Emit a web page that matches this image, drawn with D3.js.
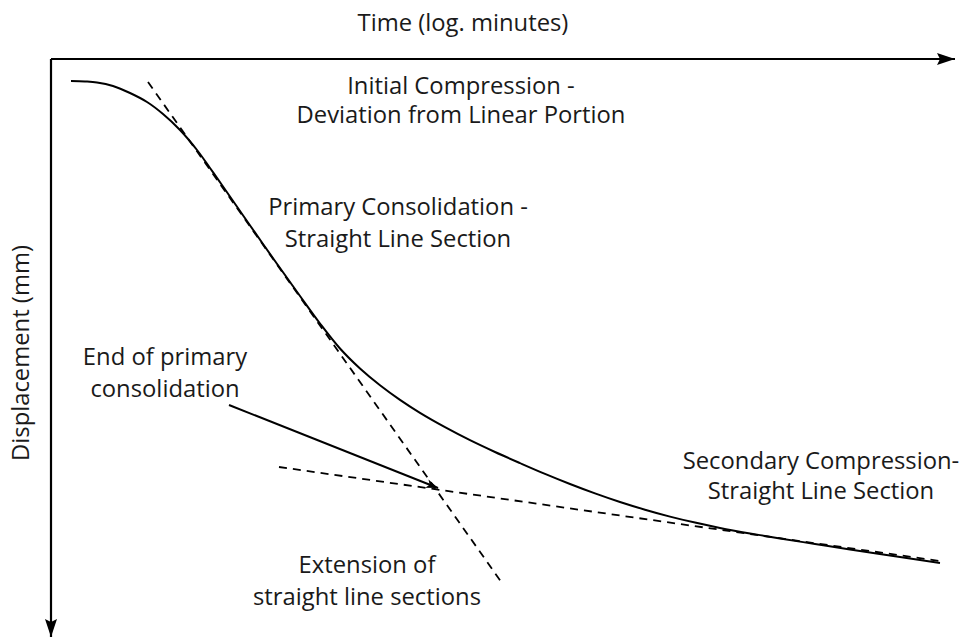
<!DOCTYPE html>
<html>
<head>
<meta charset="utf-8">
<script src="https://cdn.jsdelivr.net/npm/d3@7"></script>
<style>
  html, body { margin: 0; padding: 0; background: #fff; }
  svg { display: block; }
  text { font-family: "Open Sans", "Noto Sans", sans-serif; fill: #1a1a1a; }
</style>
</head>
<body>
<svg id="chart" width="960" height="638"></svg>
<script>
// Log-time (x) vs displacement (y), arbitrary units
const curveTime = [0.20, 0.34, 0.46, 0.62, 0.79, 0.96, 1.12, 1.29, 1.46, 1.59, 1.72, 2.12, 2.49, 2.69, 2.89, 3.09, 3.29, 3.49, 3.69, 3.94, 4.19, 4.44, 4.69, 4.94, 5.19, 5.44, 5.69, 5.94, 6.19, 6.44, 6.69, 6.99, 7.29, 7.64, 7.99, 8.44, 8.89];
const curveDisp = [0.22, 0.225, 0.235, 0.27, 0.34, 0.43, 0.55, 0.71, 0.91, 1.09, 1.275, 1.85, 2.37, 2.645, 2.895, 3.095, 3.263, 3.409, 3.539, 3.682, 3.812, 3.930, 4.041, 4.149, 4.250, 4.344, 4.430, 4.507, 4.576, 4.636, 4.689, 4.744, 4.794, 4.850, 4.904, 4.972, 5.040];

const primaryLineTime = [0.97, 4.51];
const primaryLineDisp = [0.23, 5.24];
const secondaryLineTime = [2.28, 8.89];
const secondaryLineDisp = [4.08, 5.02];

const pointerTime = [1.78, 3.87];
const pointerDisp = [3.46, 4.29];

const axisEndTime = 9.04;
const axisEndDisp = 5.78;

const xTitle = "Time (log. minutes)";
const yTitle = "Displacement (mm)";
const annotations = [
  { lines: ["Initial Compression -", "Deviation from Linear Portion"], x: 461, y: [94, 123] },
  { lines: ["Primary Consolidation -", "Straight Line Section"], x: 398, y: [215, 247] },
  { lines: ["End of primary", "consolidation"], x: 165, y: [365, 397] },
  { lines: ["Extension of", "straight line sections"], x: 367, y: [573, 605] },
  { lines: ["Secondary Compression-", "Straight Line Section"], x: 821, y: [469, 499] }
];

const FS = 23.8;
const svg = d3.select("#chart");
const x = d3.scaleLinear().domain([0, 9]).range([51, 951]);
const y = d3.scaleLinear().domain([0, 5.8]).range([59, 639]);

const defs = svg.append("defs");
function marker(id, w, h) {
  defs.append("marker")
    .attr("id", id)
    .attr("viewBox", `0 0 ${w} ${h}`)
    .attr("refX", w).attr("refY", h / 2)
    .attr("markerWidth", w).attr("markerHeight", h)
    .attr("markerUnits", "userSpaceOnUse")
    .attr("orient", "auto")
    .append("path")
    .attr("d", `M0,0L${w},${h / 2}L0,${h}L3,${h / 2}Z`)
    .attr("fill", "#000");
}
marker("axisArrow", 18, 12);
marker("ptrArrow", 12, 9);

// Axes
svg.append("line")
  .attr("x1", x(0)).attr("y1", y(0))
  .attr("x2", x(axisEndTime)).attr("y2", y(0))
  .attr("stroke", "#000").attr("stroke-width", 2.2)
  .attr("marker-end", "url(#axisArrow)");
svg.append("line")
  .attr("x1", x(0)).attr("y1", y(0))
  .attr("x2", x(0)).attr("y2", y(axisEndDisp))
  .attr("stroke", "#000").attr("stroke-width", 2.2)
  .attr("marker-end", "url(#axisArrow)");

// Dashed extension lines
const seg = (ts, ds) => d3.line()(ts.map((t, i) => [x(t), y(ds[i])]));
svg.append("path")
  .attr("d", seg(primaryLineTime, primaryLineDisp))
  .attr("fill", "none").attr("stroke", "#000")
  .attr("stroke-width", 1.8).attr("stroke-dasharray", "8,6");
svg.append("path")
  .attr("d", seg(secondaryLineTime, secondaryLineDisp))
  .attr("fill", "none").attr("stroke", "#000")
  .attr("stroke-width", 1.8).attr("stroke-dasharray", "8,6");

// Consolidation curve
const pts = curveTime.map((t, i) => [x(t), y(curveDisp[i])]);
svg.append("path")
  .attr("d", d3.line().curve(d3.curveCatmullRom.alpha(0.5))(pts))
  .attr("fill", "none").attr("stroke", "#000").attr("stroke-width", 2);

// Pointer arrow
svg.append("path")
  .attr("d", seg(pointerTime, pointerDisp))
  .attr("fill", "none").attr("stroke", "#000").attr("stroke-width", 2)
  .attr("marker-end", "url(#ptrArrow)");

// Titles
svg.append("text")
  .attr("x", 463).attr("y", 31)
  .attr("text-anchor", "middle").attr("font-size", FS)
  .text(xTitle);
svg.append("text")
  .attr("transform", "translate(29,353) rotate(-90)")
  .attr("text-anchor", "middle").attr("font-size", FS)
  .text(yTitle);

// Annotations
annotations.forEach(a => {
  a.lines.forEach((l, i) => {
    svg.append("text")
      .attr("x", a.x).attr("y", a.y[i])
      .attr("text-anchor", "middle").attr("font-size", FS)
      .text(l);
  });
});
</script>
</body>
</html>
